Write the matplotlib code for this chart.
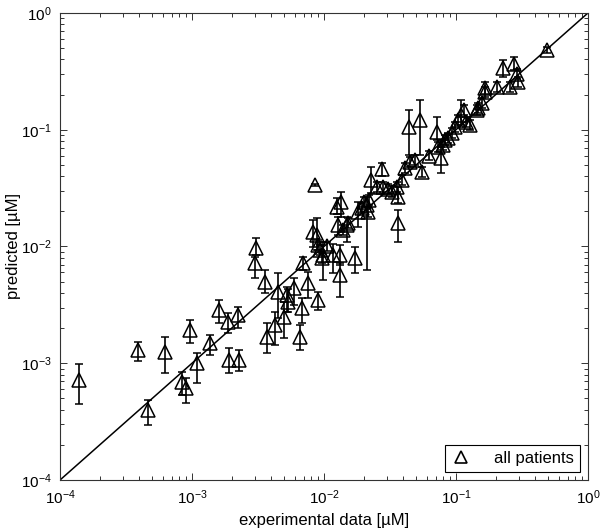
import numpy as np
import matplotlib.pyplot as plt
from matplotlib.lines import Line2D
from matplotlib.ticker import LogLocator, NullFormatter

plt.rcParams["font.family"] = ["Liberation Sans", "DejaVu Sans"]

# experimental vs predicted concentrations [uM], with lower / upper prediction bounds
exp_data = [
    1.39e-4, 3.88e-4, 6.24e-4, 9.66e-4, 4.67e-4, 8.35e-4, 9.0e-4, 1.09e-3, 1.37e-3, 1.61e-3,
    1.88e-3, 2.24e-3, 1.92e-3, 2.27e-3, 3.05e-3, 3.0e-3, 3.57e-3, 4.45e-3, 5.96e-3, 5.21e-3,
    5.36e-3, 5.0e-3, 4.25e-3, 3.72e-3, 6.58e-3, 8.55e-3, 2.27e-2, 1.35e-2, 1.26e-2, 1.82e-2,
    2.10e-2, 1.49e-2, 1.28e-2, 8.2e-3, 8.81e-3, 6.97e-3, 1.16e-2, 1.32e-2, 9.89e-3, 1.32e-2,
    1.72e-2, 7.6e-3, 9.06e-3, 6.78e-3, 2.74e-2, 3.66e-2, 3.66e-2, 3.55e-2, 2.80e-2, 3.05e-2,
    3.26e-2, 2.51e-2, 3.88e-2, 4.11e-2, 4.49e-2, 4.89e-2, 5.50e-2, 5.34e-2, 4.40e-2, 7.14e-2,
    7.35e-2, 7.66e-2, 8.26e-2, 8.75e-2, 9.33e-2, 7.98e-2, 9.82e-2, 0.104, 0.110, 0.114,
    0.120, 0.144, 0.147, 0.157, 0.166, 0.166, 0.203, 0.257, 0.228, 0.275,
    0.288, 0.293, 0.492, 0.128, 1.53e-2, 1.40e-2, 1.94e-2, 2.15e-2, 2.01e-2, 2.20e-2,
    9.33e-3, 9.01e-3, 9.66e-3, 1.05e-2, 6.2e-2,
]
predicted = [
    7.2e-4, 1.30e-3, 1.26e-3, 1.93e-3, 3.98e-4, 6.95e-4, 6.1e-4, 1.0e-3, 1.48e-3, 2.86e-3,
    2.27e-3, 2.59e-3, 1.07e-3, 1.07e-3, 9.65e-3, 7.18e-3, 5.0e-3, 4.10e-3, 4.38e-3, 3.84e-3,
    3.37e-3, 2.5e-3, 2.13e-3, 1.69e-3, 1.69e-3, 3.36e-2, 3.71e-2, 2.42e-2, 2.19e-2, 1.99e-2,
    2.27e-2, 1.53e-2, 1.53e-2, 1.34e-2, 1.255e-2, 7.18e-3, 8.46e-3, 8.46e-3, 8.46e-3, 5.70e-3,
    7.92e-3, 4.84e-3, 3.48e-3, 2.95e-3, 4.58e-2, 1.58e-2, 2.67e-2, 3.25e-2, 3.23e-2, 3.11e-2,
    2.95e-2, 3.25e-2, 3.71e-2, 4.70e-2, 5.29e-2, 5.51e-2, 4.37e-2, 0.121, 0.105, 9.62e-2,
    7.16e-2, 5.69e-2, 8.17e-2, 8.50e-2, 9.38e-2, 7.40e-2, 0.106, 0.121, 0.134, 0.148,
    0.117, 0.148, 0.154, 0.169, 0.226, 0.211, 0.234, 0.234, 0.336, 0.364,
    0.300, 0.255, 0.482, 0.110, 1.58e-2, 1.38e-2, 2.14e-2, 1.97e-2, 2.40e-2, 2.50e-2,
    9.33e-3, 1.03e-2, 7.97e-3, 1.0e-2, 6.0e-2,
]
pred_low = [
    4.5e-4, 1.05e-3, 8.3e-4, 1.50e-3, 2.96e-4, 5.35e-4, 4.54e-4, 6.8e-4, 1.18e-3, 2.20e-3,
    1.80e-3, 1.99e-3, 8.3e-4, 8.5e-4, 8.46e-3, 5.34e-3, 3.97e-3, 2.43e-3, 3.16e-3, 2.77e-3,
    2.77e-3, 1.64e-3, 1.43e-3, 1.22e-3, 1.30e-3, 3.3e-2, 2.86e-2, 1.80e-2, 1.9e-2, 1.48e-2,
    6.3e-3, 1.10e-2, 1.25e-2, 9.96e-3, 9.33e-3, 6.29e-3, 5.89e-3, 6.95e-3, 5.16e-3, 3.72e-3,
    5.89e-3, 3.60e-3, 2.86e-3, 2.20e-3, 4.02e-2, 1.10e-2, 2.36e-2, 2.9e-2, 2.9e-2, 2.8e-2,
    2.65e-2, 2.9e-2, 3.35e-2, 4.25e-2, 4.8e-2, 5.0e-2, 3.95e-2, 6.08e-2, 6.08e-2, 8.17e-2,
    6.5e-2, 4.24e-2, 7.4e-2, 7.7e-2, 8.5e-2, 6.7e-2, 9.6e-2, 0.109, 0.110, 0.134,
    0.106, 0.134, 0.139, 0.153, 0.202, 0.191, 0.212, 0.212, 0.285, 0.325,
    0.272, 0.231, 0.45, 0.10, 1.43e-2, 1.25e-2, 1.94e-2, 1.78e-2, 2.17e-2, 2.26e-2,
    8.4e-3, 9.3e-3, 7.2e-3, 9.1e-3, 5.5e-2,
]
pred_high = [
    9.8e-4, 1.53e-3, 1.69e-3, 2.35e-3, 4.85e-4, 8.47e-4, 7.43e-4, 1.23e-3, 1.75e-3, 3.48e-3,
    2.68e-3, 3.05e-3, 1.36e-3, 1.30e-3, 1.175e-2, 8.18e-3, 6.29e-3, 5.89e-3, 5.34e-3, 4.53e-3,
    4.3e-3, 3.37e-3, 2.77e-3, 2.20e-3, 2.13e-3, 3.4e-2, 4.82e-2, 2.95e-2, 2.6e-2, 2.42e-2,
    2.67e-2, 1.80e-2, 1.8e-2, 1.69e-2, 1.75e-2, 8.18e-3, 1.06e-2, 1.03e-2, 1.10e-2, 7.18e-3,
    9.96e-3, 6.08e-3, 4.10e-3, 3.60e-3, 5.19e-2, 2.05e-2, 3.25e-2, 3.6e-2, 3.6e-2, 3.45e-2,
    3.3e-2, 3.6e-2, 4.1e-2, 5.2e-2, 5.8e-2, 6.05e-2, 4.8e-2, 0.180, 0.148, 0.129,
    7.9e-2, 7.16e-2, 9.0e-2, 9.4e-2, 0.103, 8.2e-2, 0.117, 0.134, 0.180, 0.163,
    0.129, 0.163, 0.170, 0.186, 0.256, 0.233, 0.258, 0.258, 0.396, 0.42,
    0.331, 0.281, 0.515, 0.121, 1.74e-2, 1.52e-2, 2.36e-2, 2.17e-2, 2.65e-2, 2.76e-2,
    1.03e-2, 1.14e-2, 8.8e-3, 1.1e-2, 6.6e-2,
]

x = np.array(exp_data)
y = np.array(predicted)
yerr = [y - np.array(pred_low), np.array(pred_high) - y]

fig = plt.figure(figsize=(6.0, 5.32), dpi=100)
ax = fig.add_axes([0.1, 0.0977, 0.88, 0.878])

ax.plot([1e-4, 1], [1e-4, 1], color="black", lw=1.1, zorder=2)
ax.errorbar(x, y, yerr=yerr, fmt="^", mfc="none", mec="black", ms=10, mew=1.1,
            ecolor="black", elinewidth=1.2, capsize=3, capthick=1.1, zorder=3)

ax.set_xscale("log")
ax.set_yscale("log")
ax.set_xlim(1e-4, 1)
ax.set_ylim(1e-4, 1)
for axis in (ax.xaxis, ax.yaxis):
    axis.set_major_locator(LogLocator(base=10, numticks=10))
    axis.set_minor_locator(LogLocator(base=10, subs=np.arange(2, 10), numticks=20))
    axis.set_minor_formatter(NullFormatter())
ax.tick_params(which="both", direction="in", top=True, right=True, labelsize=11,
               width=0.7, color="#333333")
ax.tick_params(which="major", length=5, pad=6)
ax.tick_params(which="minor", length=3)
for s in ax.spines.values():
    s.set_linewidth(0.8)
    s.set_color("#333333")

ax.set_xlabel("experimental data [µM]", fontsize=12, labelpad=4)
ax.set_ylabel("predicted [µM]", fontsize=12)
ax.yaxis.set_label_coords(-0.074, 0.5)

handle = Line2D([], [], ls="none", marker="^", mfc="none", mec="black", ms=8, mew=1.2)
leg = ax.legend([handle], ["all patients"], loc="lower right", fontsize=12,
                fancybox=False, edgecolor="black", framealpha=1, borderaxespad=0.5,
                handlelength=1.2, handletextpad=1.4, borderpad=0.35)
leg.get_frame().set_linewidth(0.8)

fig.savefig("out.png", dpi=100)
